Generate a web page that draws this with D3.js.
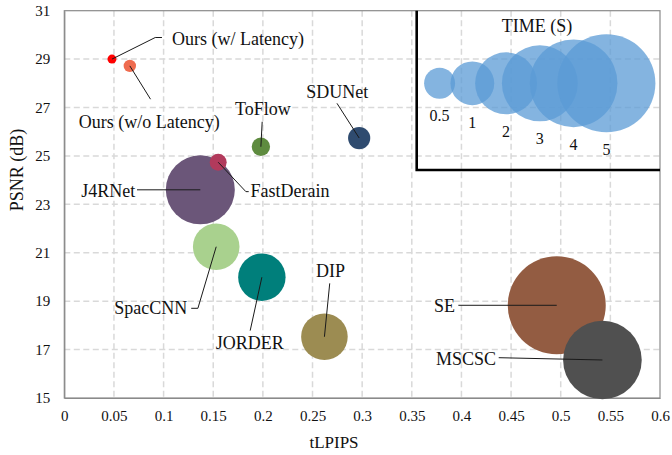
<!DOCTYPE html>
<html>
<head>
<meta charset="utf-8">
<script src="https://cdn.jsdelivr.net/npm/d3@7"></script>
<style>
  body { margin: 0; background: #fff; }
  text { font-family: "Liberation Serif", "Times New Roman", serif; fill: #111; }
</style>
</head>
<body>
<svg id="chart" width="672" height="455"></svg>
<script>
// data
const methods = ["Ours (w/ Latency)", "Ours (w/o Latency)", "ToFlow", "J4RNet", "FastDerain", "SDUNet",
                 "SpacCNN", "JORDER", "DIP", "SE", "MSCSC"];
const tlpips = [0.048, 0.066, 0.198, 0.137, 0.155, 0.297, 0.153, 0.199, 0.262, 0.496, 0.542];
const psnr   = [29.0, 28.72, 25.38, 23.6, 24.74, 25.74, 21.25, 19.99, 17.53, 18.83, 16.57];
const times  = [0.042, 0.08, 0.176, 2.48, 0.15, 0.257, 1.13, 1.17, 1.13, 5.0, 3.22];
const colors = ["#ff0000", "#ef6b4f", "#5e8b3f", "#6b5679", "#b23a5c", "#2f4b6f",
                "#a9d18e", "#007f7b", "#9c8c52", "#935c42", "#505050"];

const xTicks = [0, 0.05, 0.1, 0.15, 0.2, 0.25, 0.3, 0.35, 0.4, 0.45, 0.5, 0.55, 0.6];
const yTicks = [15, 17, 19, 21, 23, 25, 27, 29, 31];

// size legend ("TIME (S)")
const legendTimes = [0.5, 1, 2, 3, 4, 5];
const legendTlpips = [0.378, 0.411, 0.445, 0.479, 0.513, 0.546];
const legendPsnr = 28;

// label placement: leader line points and text offset, in px from the bubble centre
const labelLayout = {
    "Ours (w/ Latency)":  { line: [[43.3, -21.6], [50, -21.6]], text: [60, -14.3, "start"] },
    "Ours (w/o Latency)": { line: [[20.7, 33.3]], text: [-51, 62.3, "start"] },
    "ToFlow":             { line: [[1.3, -25]], text: [2, -31.7, "middle"] },
    "J4RNet":             { line: [[-63.3, 0]], text: [-65, 6.7, "end"] },
    "FastDerain":         { line: [[27.7, 29.4], [30.5, 29.4]], text: [32.4, 34.4, "start"] },
    "SDUNet":             { line: [[-22.2, -34.7]], text: [-22, -39.7, "middle"] },
    "SpacCNN":            { line: [[-18.3, 61.6], [-25, 61.6]], text: [-29, 67.3, "end"] },
    "JORDER":             { line: [[-11.7, 53.4]], text: [-12, 72, "middle"] },
    "DIP":                { line: [[5.3, -53.4]], text: [6, -59.4, "middle"] },
    "SE":                 { line: [[-98.4, 0]], text: [-101.7, 6.4, "end"] },
    "MSCSC":              { line: [[-103.7, -2.3]], text: [-106.3, 5, "end"] }
};

const svg = d3.select("#chart");
const plotLeft = 64.3, plotRight = 660, plotTop = 10.7, plotBottom = 398;

const x = d3.scaleLinear().domain([0, 0.6]).range([plotLeft, plotRight]);
const y = d3.scaleLinear().domain([15, 31]).range([plotBottom, plotTop]);
const r = d3.scaleSqrt().domain([0, 5]).range([0, 49]);

// grid
svg.append("g")
    .selectAll("line")
    .data(xTicks.slice(1, -1))
    .join("line")
    .attr("x1", d => x(d)).attr("x2", d => x(d))
    .attr("y1", plotTop).attr("y2", plotBottom)
    .attr("stroke", "#d9d9d9").attr("stroke-width", 1.5).attr("stroke-dasharray", "6,3.5");

svg.append("g")
    .selectAll("line")
    .data(yTicks.slice(1, -1))
    .join("line")
    .attr("x1", plotLeft).attr("x2", plotRight)
    .attr("y1", d => y(d)).attr("y2", d => y(d))
    .attr("stroke", "#d9d9d9").attr("stroke-width", 1.5).attr("stroke-dasharray", "6,3.5");

// plot border
svg.append("rect")
    .attr("x", plotLeft).attr("y", plotTop)
    .attr("width", plotRight - plotLeft).attr("height", plotBottom - plotTop)
    .attr("fill", "none").attr("stroke", "#8a8a8a").attr("stroke-width", 1.2);

// axes
const xAxis = svg.append("g")
    .attr("transform", `translate(0,${plotBottom})`)
    .call(d3.axisBottom(x).tickValues(xTicks).tickSize(0).tickPadding(12).tickFormat(d => String(d)));
const yAxis = svg.append("g")
    .attr("transform", `translate(${plotLeft},0)`)
    .call(d3.axisLeft(y).tickValues(yTicks).tickSize(0).tickPadding(14).tickFormat(d => String(d)));
[xAxis, yAxis].forEach(a => {
    a.select(".domain").attr("stroke", "#8a8a8a").attr("stroke-width", 1.2);
    a.selectAll("text").attr("font-size", 15).attr("font-family", "Liberation Serif").attr("fill", "#111");
});

svg.append("text")
    .attr("x", 334).attr("y", 448)
    .attr("text-anchor", "middle").attr("font-size", 17)
    .text("tLPIPS");
svg.append("text")
    .attr("transform", "translate(23,170) rotate(-90)")
    .attr("text-anchor", "middle").attr("font-size", 18)
    .text("PSNR (dB)");

// bubbles
const points = methods.map((m, i) => ({ name: m, x: tlpips[i], y: psnr[i], t: times[i], color: colors[i] }));

svg.append("g")
    .selectAll("circle")
    .data(points)
    .join("circle")
    .attr("cx", d => x(d.x))
    .attr("cy", d => y(d.y))
    .attr("r", d => r(d.t))
    .attr("fill", d => d.color);

// leader lines + labels
const lab = svg.append("g");
points.forEach(d => {
    const cx = x(d.x), cy = y(d.y);
    const L = labelLayout[d.name];
    const pts = [[cx, cy]].concat(L.line.map(p => [cx + p[0], cy + p[1]]));
    lab.append("path")
        .attr("d", d3.line()(pts))
        .attr("fill", "none").attr("stroke", "#1a1a1a").attr("stroke-width", 1);
    lab.append("text")
        .attr("x", cx + L.text[0]).attr("y", cy + L.text[1])
        .attr("text-anchor", L.text[2]).attr("font-size", 18)
        .text(d.name);
});

// size legend
const lg = svg.append("g");
lg.selectAll("circle")
    .data(legendTimes)
    .join("circle")
    .attr("cx", (d, i) => x(legendTlpips[i]))
    .attr("cy", y(legendPsnr))
    .attr("r", d => r(d))
    .attr("fill", "#5b9bd5").attr("fill-opacity", 0.75);
lg.selectAll("text.lv")
    .data(legendTimes)
    .join("text")
    .attr("class", "lv")
    .attr("x", (d, i) => x(legendTlpips[i]))
    .attr("y", d => y(legendPsnr) + r(d) + 22.6)
    .attr("text-anchor", "middle").attr("font-size", 16)
    .text(d => String(d));
lg.append("text")
    .attr("x", 537).attr("y", 31.5)
    .attr("text-anchor", "middle").attr("font-size", 18)
    .text("TIME (S)");
lg.append("path")
    .attr("d", `M416.7,${plotTop} V170 H${plotRight}`)
    .attr("fill", "none").attr("stroke", "#000").attr("stroke-width", 2.6);
</script>
</body>
</html>
